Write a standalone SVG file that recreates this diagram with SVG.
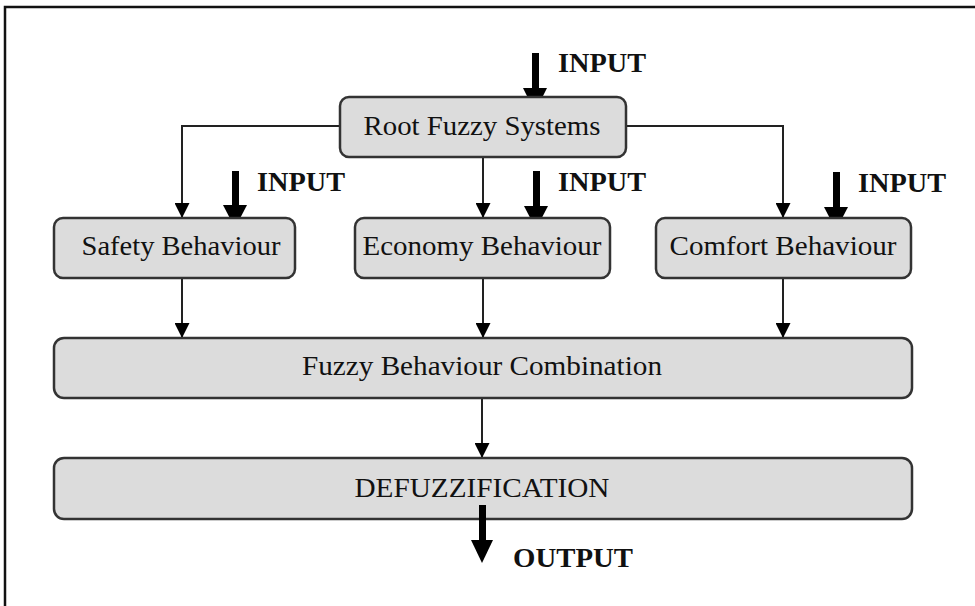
<svg xmlns="http://www.w3.org/2000/svg" width="975" height="606" viewBox="0 0 975 606">
<defs>
<style>
.box{fill:#dcdcdc;stroke:#333;stroke-width:2.5}
.lbl{font-family:"Liberation Serif","Times New Roman",serif;font-size:28px;fill:#111;text-anchor:middle}
.io{font-family:"Liberation Serif","Times New Roman",serif;font-size:27px;font-weight:bold;fill:#111}
.con{fill:none;stroke:#222;stroke-width:2;marker-end:url(#ah)}
.big{fill:#000}
</style>
<marker id="ah" markerUnits="userSpaceOnUse" markerWidth="15" markerHeight="15" refX="15" refY="7.5" orient="auto" viewBox="0 0 15 15">
<path d="M0,0 L15,7.5 L0,15 z" fill="#000"/>
</marker>
</defs>
<rect width="975" height="606" fill="#fff"/>
<path d="M5,606 V7 H975" fill="none" stroke="#111" stroke-width="2.5"/>

<g id="connectors">
<path class="con" d="M340,126 H182 V218"/>
<path class="con" d="M483,157 V218"/>
<path class="con" d="M626,126 H783 V218"/>
<path class="con" d="M182,278 V338"/>
<path class="con" d="M483,278 V338"/>
<path class="con" d="M783,278 V338"/>
<path class="con" d="M482,398 V458"/>
</g>

<g id="inputs">
<rect class="big" x="532" y="53" width="7" height="37"/>
<polygon class="big" points="523,88 547,88 535,112"/>
<text class="io" x="558" y="72" textLength="88" lengthAdjust="spacingAndGlyphs">INPUT</text>

<rect class="big" x="232" y="171" width="7" height="37"/>
<polygon class="big" points="223,205 247,205 235,228"/>
<text class="io" x="257" y="191" textLength="88" lengthAdjust="spacingAndGlyphs">INPUT</text>

<rect class="big" x="533" y="171" width="7" height="37"/>
<polygon class="big" points="524,206 548,206 536,229"/>
<text class="io" x="558" y="191" textLength="88" lengthAdjust="spacingAndGlyphs">INPUT</text>

<rect class="big" x="833" y="172" width="7" height="37"/>
<polygon class="big" points="824,207 848,207 836,230"/>
<text class="io" x="858" y="192" textLength="88" lengthAdjust="spacingAndGlyphs">INPUT</text>
</g>

<g id="root">
<rect class="box" x="340" y="97" width="286" height="60" rx="9"/>
<text class="lbl" x="482" y="135" textLength="237" lengthAdjust="spacingAndGlyphs">Root Fuzzy Systems</text>
</g>

<g id="safety">
<rect class="box" x="54" y="218" width="241" height="60" rx="9"/>
<text class="lbl" x="181" y="255" textLength="199" lengthAdjust="spacingAndGlyphs">Safety Behaviour</text>
</g>

<g id="economy">
<rect class="box" x="355" y="218" width="255" height="60" rx="9"/>
<text class="lbl" x="482" y="255" textLength="239" lengthAdjust="spacingAndGlyphs">Economy Behaviour</text>
</g>

<g id="comfort">
<rect class="box" x="656" y="218" width="255" height="60" rx="9"/>
<text class="lbl" x="783" y="255" textLength="227" lengthAdjust="spacingAndGlyphs">Comfort Behaviour</text>
</g>

<g id="combination">
<rect class="box" x="54" y="338" width="858" height="60" rx="10"/>
<text class="lbl" x="482" y="375" textLength="360" lengthAdjust="spacingAndGlyphs">Fuzzy Behaviour Combination</text>
</g>

<g id="defuzzification">
<rect class="box" x="54" y="458" width="858" height="61" rx="10"/>
<text class="lbl" x="482" y="497" textLength="255" lengthAdjust="spacingAndGlyphs">DEFUZZIFICATION</text>
</g>

<g id="output">
<rect class="big" x="479" y="505" width="7" height="37"/>
<polygon class="big" points="471,540 493,540 482,563"/>
<text class="io" x="513" y="567" textLength="120" lengthAdjust="spacingAndGlyphs">OUTPUT</text>
</g>
</svg>
